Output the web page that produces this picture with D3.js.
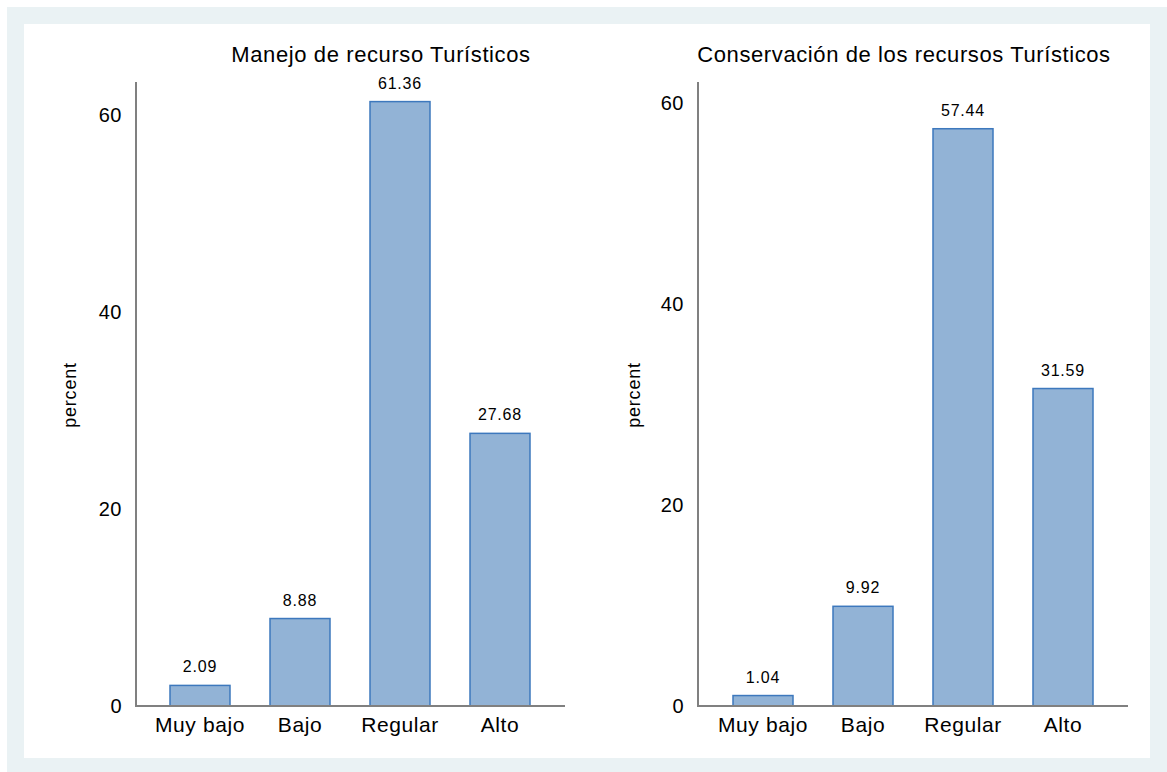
<!DOCTYPE html>
<html>
<head>
<meta charset="utf-8">
<script src="https://cdn.jsdelivr.net/npm/d3@7"></script>
<style>
  body { margin: 0; background: #fff; }
  svg { display: block; font-family: "Liberation Sans", Arial, sans-serif; }
</style>
</head>
<body>
<div id="chart"></div>
<script>
const categories = ["Muy bajo", "Bajo", "Regular", "Alto"];
const manejoValues = [2.09, 8.88, 61.36, 27.68];
const conservacionValues = [1.04, 9.92, 57.44, 31.59];
const yTicks = [0, 20, 40, 60];
const titles = ["Manejo de recurso Turísticos", "Conservación de los recursos Turísticos"];

const W = 1167, H = 772;

const svg = d3.select("#chart")
    .append("svg")
    .attr("width", W)
    .attr("height", H);

// outer frame
svg.append("rect")
    .attr("x", 7).attr("y", 7)
    .attr("width", W - 7).attr("height", H - 7)
    .attr("fill", "#eaf2f4");
svg.append("rect")
    .attr("x", 24).attr("y", 24)
    .attr("width", 1126).attr("height", 734)
    .attr("fill", "#ffffff");

const panels = [
    { title: titles[0], values: manejoValues, axisX: 136, axisEnd: 565, barStart: 150, top: 82, y60: 115, titleX: 381, labelX: 76 },
    { title: titles[1], values: conservacionValues, axisX: 698, axisEnd: 1128, barStart: 713, top: 82, y60: 103, titleX: 904, labelX: 640 }
];

const baseY = 706;

panels.forEach(p => {
    const g = svg.append("g");

    const y = d3.scaleLinear()
        .domain([0, 60])
        .range([baseY, p.y60]);

    const x = d3.scaleBand()
        .domain(categories)
        .range([p.barStart, p.barStart + 400])
        .paddingInner(0.4)
        .paddingOuter(0.2);

    // y axis
    const yAxis = g.append("g")
        .attr("transform", `translate(${p.axisX},0)`)
        .call(d3.axisLeft(y).tickValues(yTicks).tickSize(0).tickPadding(14));
    yAxis.select(".domain").remove();
    yAxis.selectAll("text")
        .style("font-size", "20px")
        .style("letter-spacing", "0.5px")
        .style("font-family", "'Liberation Sans', Arial, sans-serif")
        .attr("fill", "#000");

    g.append("line")
        .attr("x1", p.axisX).attr("x2", p.axisX)
        .attr("y1", p.top).attr("y2", baseY + 1)
        .attr("stroke", "#808080")
        .attr("stroke-width", 2);

    // bars
    g.selectAll("rect.bar")
        .data(p.values)
        .enter()
        .append("rect")
        .attr("class", "bar")
        .attr("x", (d, i) => x(categories[i]))
        .attr("y", d => y(d))
        .attr("width", x.bandwidth())
        .attr("height", d => baseY - y(d))
        .attr("fill", "#92b3d6")
        .attr("stroke", "#3d78bd")
        .attr("stroke-width", 1.5);

    // value labels
    g.selectAll("text.val")
        .data(p.values)
        .enter()
        .append("text")
        .attr("class", "val")
        .attr("x", (d, i) => x(categories[i]) + x.bandwidth() / 2)
        .attr("y", d => y(d) - 13)
        .attr("text-anchor", "middle")
        .style("font-size", "16px")
        .style("letter-spacing", "0.8px")
        .text(d => d.toFixed(2));

    // x axis
    const xAxis = g.append("g")
        .attr("transform", `translate(0,${baseY})`)
        .call(d3.axisBottom(x).tickSize(0).tickPadding(11));
    xAxis.select(".domain").remove();
    xAxis.selectAll("text")
        .style("font-size", "21px")
        .style("letter-spacing", "0.6px")
        .style("font-family", "'Liberation Sans', Arial, sans-serif")
        .attr("fill", "#000");

    g.append("line")
        .attr("x1", p.axisX - 1).attr("x2", p.axisEnd)
        .attr("y1", baseY).attr("y2", baseY)
        .attr("stroke", "#808080")
        .attr("stroke-width", 2);

    // title
    g.append("text")
        .attr("x", p.titleX)
        .attr("y", 62)
        .attr("text-anchor", "middle")
        .style("font-size", "22px")
        .style("letter-spacing", "0.6px")
        .text(p.title);

    // y label
    g.append("text")
        .attr("transform", `translate(${p.labelX},${395}) rotate(-90)`)
        .attr("text-anchor", "middle")
        .style("font-size", "18px")
        .style("letter-spacing", "0.8px")
        .text("percent");
});
</script>
</body>
</html>
